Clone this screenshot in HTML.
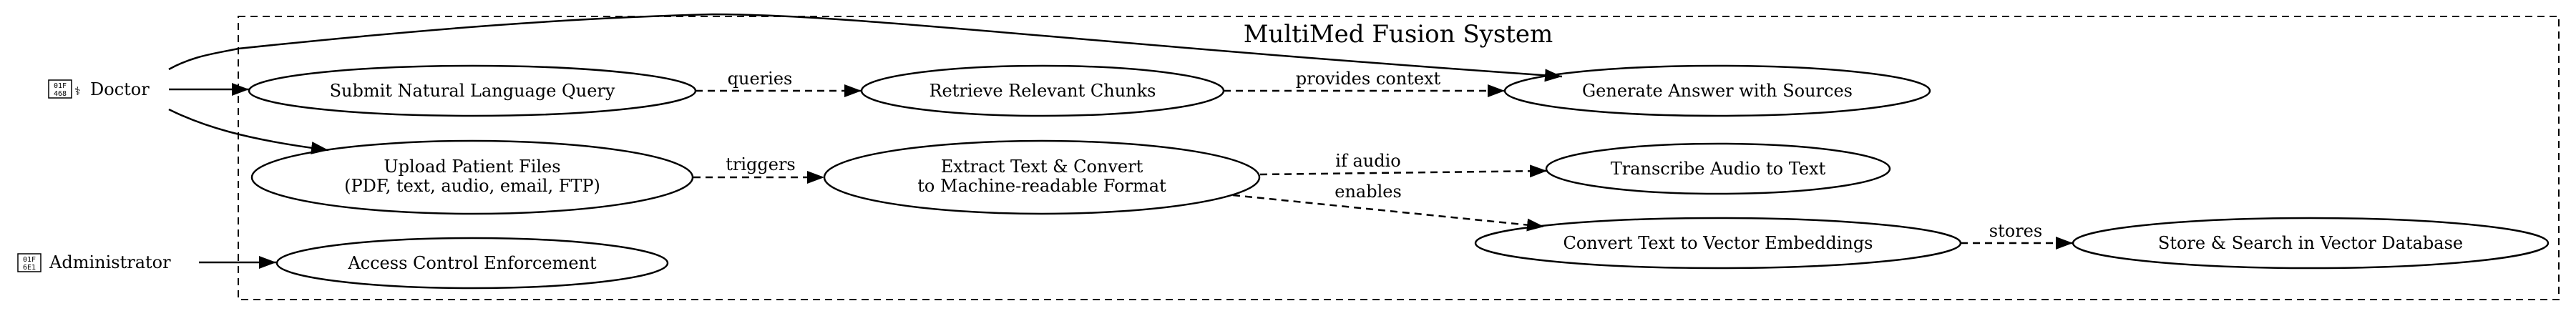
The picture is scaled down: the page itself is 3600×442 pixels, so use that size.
<!DOCTYPE html>
<html><head><meta charset="utf-8"><style>
html,body{margin:0;padding:0;background:#fff;}
svg{display:block;}
text{font-family:"DejaVu Serif","Liberation Serif",serif;font-size:24px;fill:#000;}
.hx{font-family:"DejaVu Sans Mono","Liberation Mono",monospace;font-size:10px;}
</style></head><body>
<svg width="3600" height="442" viewBox="0 0 3600 442" xmlns="http://www.w3.org/2000/svg">
<defs>
<marker id="b" markerWidth="24" markerHeight="18" refX="24" refY="9" orient="auto" markerUnits="userSpaceOnUse">
<path d="M0,0 L24,9 L0,18 Z" fill="#000"/></marker>
</defs>
<rect x="333" y="23" width="3243" height="396" fill="none" stroke="#000" stroke-width="2" stroke-dasharray="10,7"/>
<text x="1954" y="59" text-anchor="middle" style="font-size:34px">MultiMed Fusion System</text>

<g fill="none" stroke="#000" stroke-width="2.5">
<ellipse cx="660" cy="127" rx="312" ry="35"/>
<ellipse cx="660" cy="248" rx="308" ry="51"/>
<ellipse cx="660" cy="368" rx="273" ry="35"/>
<ellipse cx="1457" cy="127" rx="253" ry="35"/>
<ellipse cx="2400" cy="127" rx="297" ry="35"/>
<ellipse cx="1456" cy="248" rx="304" ry="51"/>
<ellipse cx="2401" cy="236" rx="240" ry="35"/>
<ellipse cx="2401" cy="340" rx="339" ry="35"/>
<ellipse cx="3229" cy="340" rx="332" ry="35"/>
</g>
<g fill="none" stroke="#000" stroke-width="2.5">
<path d="M236,125 L348,125" marker-end="url(#b)"/>
<path d="M236,153 C280,175 340,195 459,210" marker-end="url(#b)"/>
<path d="M236,97 C270,78 300,75 333,68 C600,40 800,25 995,20 C1200,20 1500,60 2183,107" marker-end="url(#b)"/>
<path d="M278,367 L386,367" marker-end="url(#b)"/>
</g>
<g fill="none" stroke="#000" stroke-width="2.5" stroke-dasharray="10,7">
<path d="M972,127 L1204,127" marker-end="url(#b)"/>
<path d="M1710,127 L2103,127" marker-end="url(#b)"/>
<path d="M969,248 L1152,248" marker-end="url(#b)"/>
<path d="M1761,244 L2162,239" marker-end="url(#b)"/>
<path d="M1723,273 L2158,317" marker-end="url(#b)"/>
<path d="M2740,340 L2897,340" marker-end="url(#b)"/>
</g>

<rect x="68" y="112" width="32" height="25" fill="none" stroke="#000" stroke-width="1.5"/>
<text class="hx" x="84" y="123" text-anchor="middle">01F</text>
<text class="hx" x="84" y="134" text-anchor="middle">468</text>
<text x="104" y="133" style="font-size:16px">⚕</text>
<text x="126" y="133">Doctor</text>

<rect x="25" y="355" width="32" height="25" fill="none" stroke="#000" stroke-width="1.5"/>
<text class="hx" x="41" y="366" text-anchor="middle">01F</text>
<text class="hx" x="41" y="377" text-anchor="middle">6E1</text>
<text x="69" y="375">Administrator</text>

<g text-anchor="middle">
<text x="660" y="135">Submit Natural Language Query</text>
<text x="660" y="241">Upload Patient Files</text>
<text x="660" y="268">(PDF, text, audio, email, FTP)</text>
<text x="660" y="376">Access Control Enforcement</text>
<text x="1457" y="135">Retrieve Relevant Chunks</text>
<text x="2400" y="135">Generate Answer with Sources</text>
<text x="1456" y="241">Extract Text &amp; Convert</text>
<text x="1456" y="268">to Machine-readable Format</text>
<text x="2401" y="244">Transcribe Audio to Text</text>
<text x="2401" y="348">Convert Text to Vector Embeddings</text>
<text x="3229" y="348">Store &amp; Search in Vector Database</text>
<text x="1062" y="118">queries</text>
<text x="1912" y="118">provides context</text>
<text x="1063" y="238">triggers</text>
<text x="1912" y="233">if audio</text>
<text x="1912" y="276">enables</text>
<text x="2817" y="331">stores</text>
</g>
</svg>
</body></html>
